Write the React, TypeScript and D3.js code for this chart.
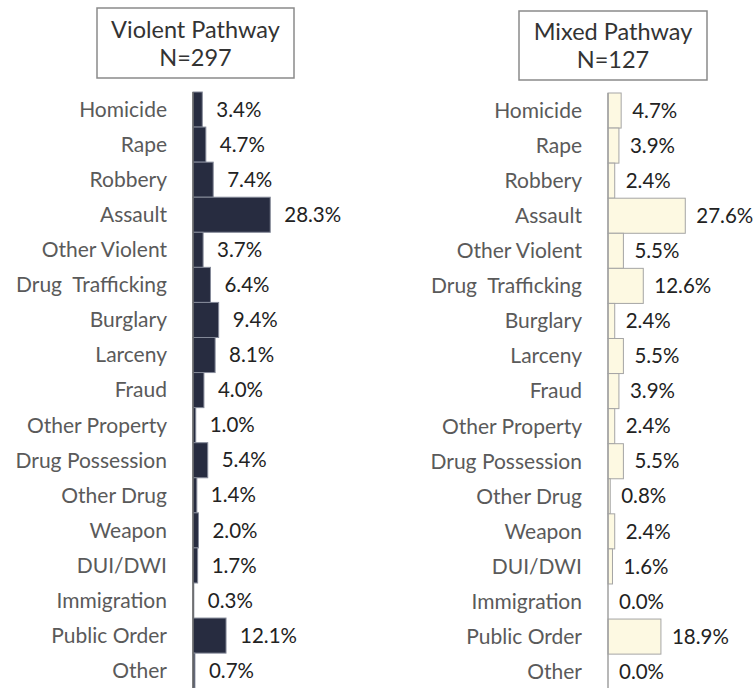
import React from "react";
import * as d3 from "d3";

const categories = [
  "Homicide",
  "Rape",
  "Robbery",
  "Assault",
  "Other Violent",
  "Drug  Trafficking",
  "Burglary",
  "Larceny",
  "Fraud",
  "Other Property",
  "Drug Possession",
  "Other Drug",
  "Weapon",
  "DUI/DWI",
  "Immigration",
  "Public Order",
  "Other",
];

const violentValues = [3.4, 4.7, 7.4, 28.3, 3.7, 6.4, 9.4, 8.1, 4.0, 1.0, 5.4, 1.4, 2.0, 1.7, 0.3, 12.1, 0.7];
const mixedValues = [4.7, 3.9, 2.4, 27.6, 5.5, 12.6, 2.4, 5.5, 3.9, 2.4, 5.5, 0.8, 2.4, 1.6, 0.0, 18.9, 0.0];

const panelTitles = ["Violent Pathway", "Mixed Pathway"];
const panelN = ["N=297", "N=127"];

const FONT = "Lato, 'Open Sans', sans-serif";

type PanelProps = {
  values: number[];
  title: string;
  n: string;
  axisX: number;
  top: number;
  pxPerUnit: number;
  labelRight: number;
  labelOffset: number;
  fill: string;
  stroke: string;
  axisColor: string;
  box: { x: number; y: number; w: number; h: number; l1: number; l2: number };
};

function Panel(p: PanelProps) {
  const y = d3.scaleBand<string>().domain(categories).range([p.top, p.top + 17 * 35.07]).padding(0);
  const x = d3.scaleLinear().domain([0, 30]).range([p.axisX, p.axisX + 30 * p.pxPerUnit]);
  const cx = p.box.x + p.box.w / 2;
  return (
    <g>
      <rect x={p.box.x} y={p.box.y} width={p.box.w} height={p.box.h} fill="#fff" stroke="#8a8a8a" strokeWidth={1.5} />
      <text x={cx} y={p.box.l1} textAnchor="middle" fontSize={23.5} fill="#333" fontFamily={FONT}>{p.title}</text>
      <text x={cx} y={p.box.l2} textAnchor="middle" fontSize={23.5} fill="#333" fontFamily={FONT}>{p.n}</text>
      {categories.map((c, i) => {
        const v = p.values[i];
        const yy = y(c)!;
        const bw = y.bandwidth();
        return (
          <g key={c}>
            {v > 0 && (
              <rect x={x(0)} y={yy} width={x(v) - x(0)} height={bw} fill={p.fill} stroke={p.stroke} strokeWidth={1} />
            )}
            <text x={p.labelRight} y={yy + bw / 2} dy="0.35em" textAnchor="end" fontSize={21} fill="#5a5a5a" fontFamily={FONT} style={{ whiteSpace: "pre" }}>{c}</text>
            <text x={x(v) + p.labelOffset} y={yy + bw / 2} dy="0.35em" fontSize={20.5} fill="#222" fontFamily={FONT}>{v.toFixed(1) + "%"}</text>
          </g>
        );
      })}
      <line x1={p.axisX} x2={p.axisX} y1={p.top} y2={688} stroke={p.axisColor} strokeWidth={1.5} />
    </g>
  );
}

export default function App() {
  return (
    <svg width={755} height={688} style={{ position: "absolute", left: 0, top: 0, background: "#fff" }}>
      <Panel
        values={violentValues}
        title={panelTitles[0]}
        n={panelN[0]}
        axisX={193}
        top={92}
        pxPerUnit={2.73}
        labelRight={167}
        labelOffset={14}
        fill="#272c40"
        stroke="#858a99"
        axisColor="#666"
        box={{ x: 97, y: 8, w: 197, h: 70, l1: 38, l2: 66 }}
      />
      <Panel
        values={mixedValues}
        title={panelTitles[1]}
        n={panelN[1]}
        axisX={608}
        top={93}
        pxPerUnit={2.8}
        labelRight={582}
        labelOffset={11}
        fill="#fdf9e2"
        stroke="#a5a5a5"
        axisColor="#a0a0a0"
        box={{ x: 519, y: 11, w: 188, h: 69, l1: 40, l2: 68 }}
      />
    </svg>
  );
}
